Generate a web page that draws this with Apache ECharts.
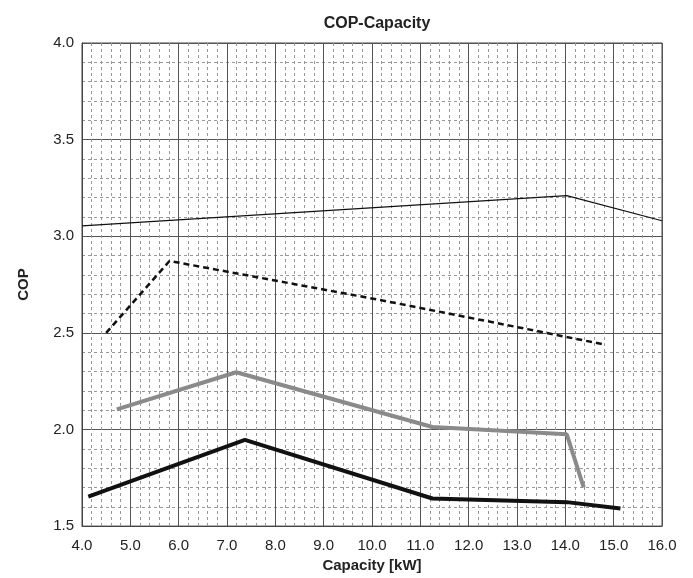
<!DOCTYPE html>
<html>
<head>
<meta charset="utf-8">
<script src="https://cdn.jsdelivr.net/npm/echarts@6/dist/echarts.min.js"></script>
<style>
html,body{margin:0;padding:0;background:#fff;}
#chart{width:693px;height:578px;}
</style>
</head>
<body>
<div id="chart"></div>
<script>
// Data
const titleText = 'COP-Capacity';
const xName = 'Capacity [kW]';
const yName = 'COP';

const thinCap = [4.0, 14.03, 16.0];
const thinCop = [3.054, 3.21, 3.08];

const dashCap = [4.5, 5.81, 10.17, 13.2, 14.8];
const dashCop = [2.50, 2.872, 2.67, 2.52, 2.44];

const grayCap = [4.72, 7.19, 11.25, 14.03, 14.38];
const grayCop = [2.104, 2.296, 2.013, 1.975, 1.70];

const blackCap = [4.13, 7.37, 11.25, 14.03, 15.14];
const blackCop = [1.653, 1.946, 1.643, 1.624, 1.591];

function pairs(xs, ys){ return xs.map((x,i)=>[x, ys[i]]); }

const chart = echarts.init(document.getElementById('chart'), null, {renderer:'canvas'});
const font = '"Liberation Sans", Arial, sans-serif';

chart.setOption({
  animation:false,
  backgroundColor:'#fff',
  title:{
    text:titleText, left:372, top:11, textAlign:'center',
    textStyle:{fontFamily:font, fontSize:16, fontWeight:'bold', color:'#222'}
  },
  grid:{left:82, right:31, top:43, bottom:49, show:true, borderColor:'#444', borderWidth:1},
  xAxis:{
    type:'value', min:4, max:16, interval:1,
    name:xName, nameLocation:'middle', nameGap:29,
    nameTextStyle:{fontFamily:font, fontSize:15, fontWeight:'bold', color:'#222'},
    axisLine:{show:true, lineStyle:{color:'#444'}},
    axisTick:{show:false},
    axisLabel:{fontFamily:font, fontSize:15, color:'#222', margin:12, formatter:v=>v.toFixed(1)},
    splitLine:{show:true, lineStyle:{color:'#555', width:1}},
    minorTick:{show:false, splitNumber:5},
    minorSplitLine:{show:true, lineStyle:{color:'#999', type:[3,3], width:1}}
  },
  yAxis:{
    type:'value', min:1.5, max:4.0, interval:0.5,
    name:yName, nameLocation:'middle', nameGap:51, nameRotate:90,
    nameTextStyle:{fontFamily:font, fontSize:15, fontWeight:'bold', color:'#222'},
    axisLine:{show:true, lineStyle:{color:'#444'}},
    axisTick:{show:false},
    axisLabel:{fontFamily:font, fontSize:15, color:'#222', margin:8, formatter:v=>v.toFixed(1)},
    splitLine:{show:true, lineStyle:{color:'#555', width:1}},
    minorTick:{show:false, splitNumber:5},
    minorSplitLine:{show:true, lineStyle:{color:'#999', type:[3,3], width:1}}
  },
  series:[
    {type:'line', data:pairs(thinCap, thinCop), showSymbol:false, lineStyle:{color:'#111', width:1.2}},
    {type:'line', data:pairs(dashCap, dashCop), showSymbol:false, lineStyle:{color:'#111', width:2.5, type:[6,4]}},
    {type:'line', data:pairs(grayCap, grayCop), showSymbol:false, lineStyle:{color:'#8a8a8a', width:4}},
    {type:'line', data:pairs(blackCap, blackCop), showSymbol:false, lineStyle:{color:'#111', width:4}}
  ]
});
</script>
</body>
</html>
